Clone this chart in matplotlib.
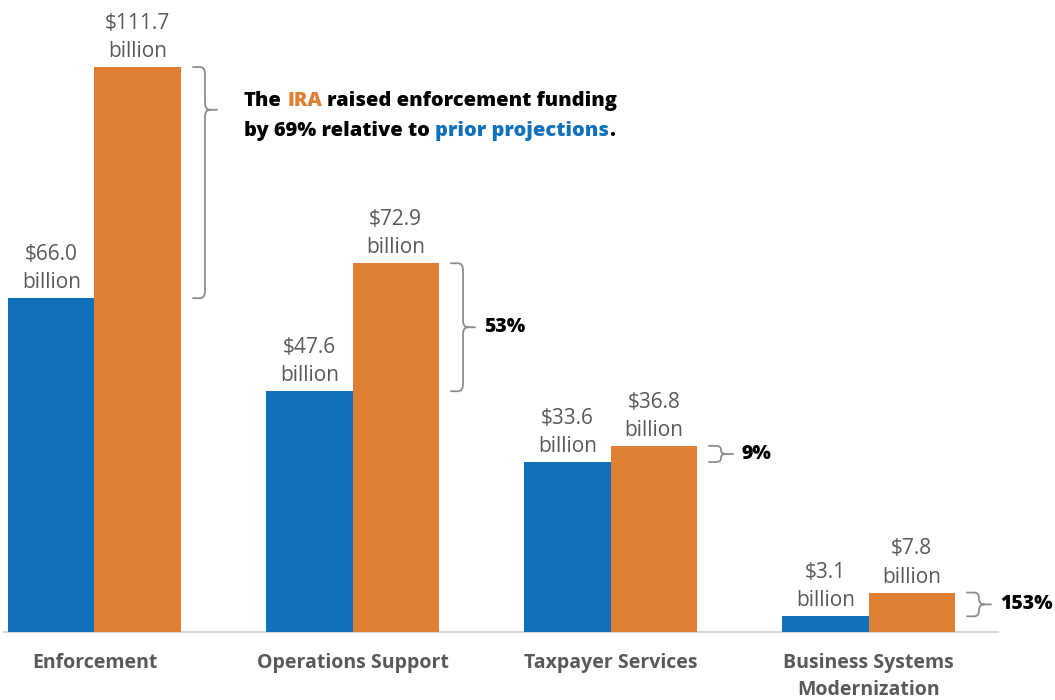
import numpy as np
import matplotlib
matplotlib.use('Agg')
import matplotlib.pyplot as plt
from matplotlib.path import Path
from matplotlib.patches import PathPatch

plt.rcParams['font.family'] = ['Open Sans', 'DejaVu Sans']
plt.rcParams['text.parse_math'] = False

# ------------------------------------------------------------------ data
categories = ['Enforcement', 'Operations Support', 'Taxpayer Services',
              'Business Systems\nModernization']
prior = [66.0, 47.6, 33.6, 3.1]      # prior projections, $bn
ira = [111.7, 72.9, 36.8, 7.8]       # with IRA, $bn
pct_labels = ['69%', '53%', '9%', '153%']

BLUE, ORANGE = '#0F71BB', '#E07E34'
GRAY_TXT, BRACE = '#595959', '#8C8C8C'

# ------------------------------------------------------------------ figure
fig = plt.figure(figsize=(10.55, 7), dpi=100)
ax = fig.add_axes([0, 0, 1, 1])
PX_X, PX_Y = 258.0, 5.058          # pixels per data unit
ax.set_xlim(-94.5 / PX_X, (1055 - 94.5) / PX_X)
ax.set_ylim(-68 / PX_Y, 632 / PX_Y)
ax.axis('off')

x = np.arange(len(categories))
w = 86.5 / PX_X
ax.plot([-0.352, 3.5], [0, 0], color='#D9D9D9', lw=1.5, zorder=1)
ax.bar(x - w / 2, prior, w, color=BLUE, zorder=2)
ax.bar(x + w / 2, ira, w, color=ORANGE, zorder=2)

# value labels
for xs, vals in [(x - w / 2, prior), (x + w / 2, ira)]:
    for xi, v in zip(xs, vals):
        ax.annotate(f'${v:.1f}\nbillion', xy=(xi, v), xytext=(0, 3.5),
                    textcoords='offset points', ha='center', va='bottom',
                    fontsize=15, color=GRAY_TXT, linespacing=1.45)

# category labels
for xi, c in zip(x, categories):
    ax.annotate(c, xy=(xi, 0), xytext=(0, -15), textcoords='offset points',
                ha='center', va='top', fontsize=14, fontweight='bold',
                color=GRAY_TXT, linespacing=1.5)


# ------------------------------------------------------------------ braces
def draw_brace(ax, xr, ytop, ybot, tip_frac=0.5):
    """Right-pointing curly brace next to a bar whose right edge is xr."""
    xh = xr + 12 / PX_X
    xv = xr + 24 / PX_X
    xt = xr + 36 / PX_X
    rx = 5 / PX_X
    span = (ytop - ybot) * PX_Y
    ry = min(7, span / 4) / PX_Y
    ym = ytop - (ytop - ybot) * tip_frac
    verts = [(xh, ytop), (xv - rx, ytop), (xv, ytop), (xv, ytop - ry),
             (xv, ym + ry), (xv, ym), (xv + rx, ym), (xt, ym),
             (xv + rx, ym), (xv, ym), (xv, ym - ry),
             (xv, ybot + ry), (xv, ybot), (xv - rx, ybot), (xh, ybot)]
    codes = [Path.MOVETO, Path.LINETO, Path.CURVE3, Path.CURVE3,
             Path.LINETO, Path.CURVE3, Path.CURVE3, Path.LINETO,
             Path.MOVETO, Path.CURVE3, Path.CURVE3,
             Path.LINETO, Path.CURVE3, Path.CURVE3, Path.LINETO]
    ax.add_patch(PathPatch(Path(verts, codes), fill=False, ec=BRACE, lw=1.3,
                           capstyle='round', joinstyle='round'))
    return xt, ym


renderer = fig.canvas.get_renderer()


def text_width(s, **kw):
    t = ax.text(0, 0, s, **kw)
    wpx = t.get_window_extent(renderer).width
    t.remove()
    return wpx / PX_X


def colored_line(x0, y0, parts, **kw):
    """Draw one line of text whose pieces have their own colours."""
    full = ''
    for s, c in parts:
        full += s
        core = s.strip()
        start = x0 + text_width(full.rstrip(), **kw) - text_width(core, **kw)
        ax.text(start, y0, core, color=c, ha='left', va='center', **kw)


for i in range(len(categories)):
    xr = x[i] + w
    if i == 0:
        xt, ym = draw_brace(ax, xr, ira[i], prior[i], tip_frac=0.185)
        tx = xt + 27 / PX_X
        kw = dict(fontsize=14.4, fontweight=800)
        colored_line(tx, ym + 9 / PX_Y,
                     [('The', 'black'), (' IRA', ORANGE),
                      (' raised enforcement funding', 'black')], **kw)
        colored_line(tx, ym - 21 / PX_Y,
                     [('by 69% relative to', 'black'),
                      (' prior projections', BLUE), ('.', 'black')], **kw)
    else:
        xt, ym = draw_brace(ax, xr, ira[i], prior[i])
        ax.text(xt + 9 / PX_X, ym, pct_labels[i], ha='left', va='center',
                fontsize=14, fontweight=800, color='black')

fig.savefig('out.png', dpi=100)
